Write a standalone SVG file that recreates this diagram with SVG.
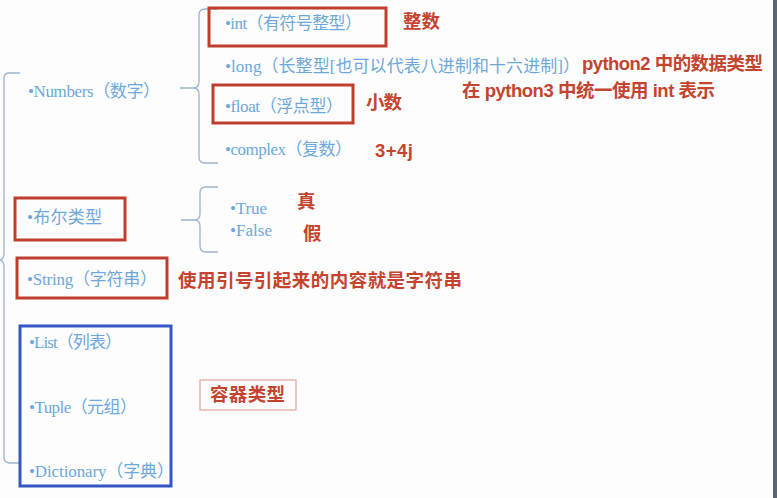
<svg xmlns="http://www.w3.org/2000/svg" width="777" height="498" viewBox="0 0 777 498">
<style>
.b{font-family:"Liberation Serif","Noto Sans CJK SC",serif;font-size:17px;fill:#6ea8da}
.r{font-family:"Liberation Sans","Noto Sans CJK SC",sans-serif;font-size:18.5px;fill:#c4442f;font-weight:600}
.rb{fill:none;stroke:#bf3f2c;stroke-width:3}
.br{fill:none;stroke:#9fb2cc;stroke-width:1.3}
</style>
<rect x="0" y="0" width="777" height="498" fill="#fdfdfe"/>
<rect x="773" y="0" width="4" height="498" fill="#5c6478"/>
<g id="connectors">
<path class="br" d="M20,73 H9 Q4,73 4,78 V253 Q4,259 0,260 Q4,261 4,267 V457 Q4,463 10,463 H20"/>
<path class="br" d="M218,9 H205 Q199,9 199,15 V82 Q199,88 193,88 H180 M193,88 Q199,88 199,94 V157 Q199,163 205,163 H218"/>
<path class="br" d="M218,187 H206 Q200,187 200,193 V214 Q200,220 194,220 H181 M194,220 Q200,220 200,226 V246 Q200,252 206,252 H218"/>
</g>
<g id="numbers"><text class="b" x="28" y="97" textLength="132">•Numbers（数字）</text></g>
<g id="int">
<rect class="rb" x="209" y="8" width="177" height="38"/>
<text class="b" x="225" y="29" textLength="137">•int（有符号整型）</text>
<text class="r" x="403" y="28" textLength="37">整数</text>
</g>
<g id="long">
<text class="b" x="225" y="72" textLength="355">•long（长整型[也可以代表八进制和十六进制]）</text>
<text class="r" x="582" y="70" textLength="181">python2 中的数据类型</text>
<text class="r" x="462" y="97" textLength="253">在 python3 中统一使用 int 表示</text>
</g>
<g id="float">
<rect class="rb" x="213" y="85" width="140" height="38"/>
<text class="b" x="225" y="112" textLength="118">•float（浮点型）</text>
<text class="r" x="366" y="109" textLength="36">小数</text>
</g>
<g id="complex">
<text class="b" x="225" y="155" textLength="127">•complex（复数）</text>
<text class="r" x="375" y="157" textLength="38">3+4j</text>
</g>
<g id="bool">
<rect class="rb" x="15" y="198" width="110" height="42"/>
<text class="b" x="27" y="223" textLength="75">•布尔类型</text>
</g>
<g id="true">
<text class="b" x="230" y="214" textLength="37">•True</text>
<text class="r" x="297" y="208">真</text>
</g>
<g id="false">
<text class="b" x="230" y="236" textLength="42">•False</text>
<text class="r" x="303" y="240">假</text>
</g>
<g id="string">
<rect class="rb" x="17" y="258" width="150" height="40"/>
<text class="b" x="27" y="285" textLength="130">•String（字符串）</text>
<text class="r" x="178" y="287" textLength="284">使用引号引起来的内容就是字符串</text>
</g>
<g id="containers">
<rect x="20" y="326" width="151" height="160" fill="none" stroke="#3457c6" stroke-width="3"/>
<text class="b" x="29" y="348" textLength="93">•List（列表）</text>
<text class="b" x="29" y="413" textLength="108">•Tuple（元组）</text>
<text class="b" x="29" y="477" textLength="145">•Dictionary（字典）</text>
</g>
<g id="container-label">
<rect x="200" y="380" width="96" height="30" fill="none" stroke="#e0a59a" stroke-width="1.2"/>
<text class="r" x="210" y="401" textLength="75">容器类型</text>
</g>
</svg>
